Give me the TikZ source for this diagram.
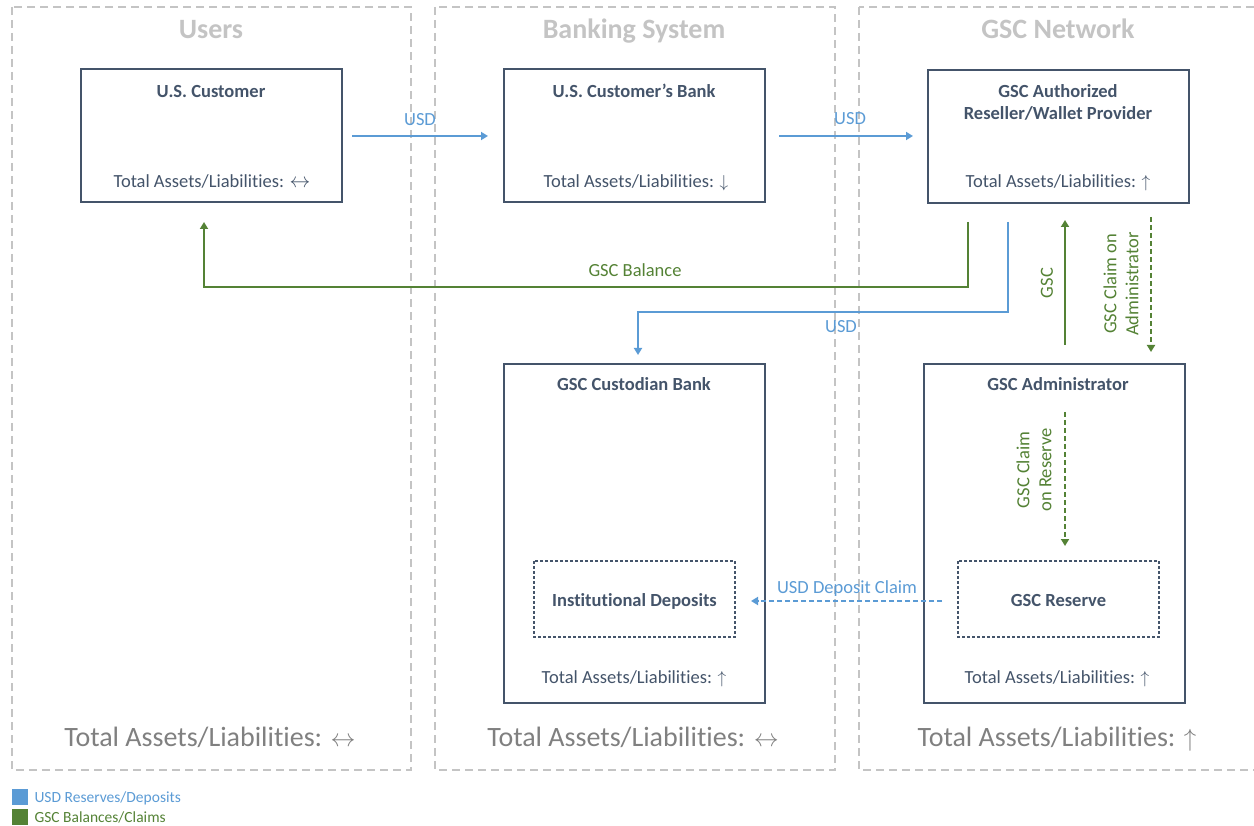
\documentclass[tikz,border=0pt]{standalone}
\usepackage{fontspec}
\setmainfont{Carlito}[Ligatures=NoCommon]
\usetikzlibrary{arrows.meta}
\definecolor{usdblue}{HTML}{5B9BD5}
\definecolor{gscgreen}{HTML}{548235}
\definecolor{slate}{HTML}{44546A}
\definecolor{grpgray}{HTML}{C4C4C4}
\definecolor{bigtext}{HTML}{808080}
\newcommand{\fs}[1]{\fontsize{#1}{1.2\dimexpr #1pt\relax}\selectfont}
% thin arrow glyphs for the balance-sheet change markers
\newcommand{\lr}{{\fontsize{1.2em}{1em}\selectfont$\leftrightarrow$}}
\newcommand{\up}{$\uparrow$}
\newcommand{\dn}{$\downarrow$}
\tikzset{
  group/.style={draw=grpgray, line width=1.4pt, dash pattern=on 8pt off 5pt},
  grouptitle/.style={text=grpgray, font=\fs{28}\bfseries, anchor=base},
  grouptotal/.style={text=bigtext, font=\fs{28}, anchor=base},
  entity/.style={draw=slate, line width=1.4pt, fill=white},
  subbox/.style={draw=slate, line width=1.1pt, dash pattern=on 3pt off 2pt},
  etitle/.style={text=slate, font=\fs{18.5}\bfseries, align=center, anchor=base},
  etotal/.style={text=slate, font=\fs{18.5}, anchor=base},
  usd/.style={draw=usdblue, line width=2pt, -{Triangle[width=8pt,length=7pt]}},
  gsc/.style={draw=gscgreen, line width=2pt, -{Triangle[width=8pt,length=7pt]}},
  claim/.style={line width=2pt, dash pattern=on 5pt off 3pt, -{Triangle[width=8pt,length=7pt]}},
  usdlabel/.style={text=usdblue, font=\fs{18.5}, anchor=base},
  gsclabel/.style={text=gscgreen, font=\fs{18.5}, anchor=base},
  vlabel/.style={text=gscgreen, font=\fs{18.5}, rotate=90, align=center},
}
\begin{document}
\begin{tikzpicture}[x=1pt,y=-1pt]
\useasboundingbox (0,0) rectangle (1254,826);

% column groups
\draw[group] (12,7) rectangle (411,770);
\draw[group] (435,7) rectangle (835,770);
\draw[group] (859,7) rectangle (1262,770);
\node[grouptitle] (tUsers) at (211,39) {Users};
\node[grouptitle] (tBank) at (634,39) {Banking System};
\node[grouptitle] (tNet) at (1058,39) {GSC Network};
\node[grouptotal] (gUsers) at (210,746) {Total Assets/Liabilities: \lr};
\node[grouptotal] (gBank) at (633,746) {Total Assets/Liabilities: \lr};
\node[grouptotal] (gNet) at (1057,746) {Total Assets/Liabilities: \up};

% entities
\draw[entity] (81,69) rectangle (342,202);
\node[etitle] (cust) at (211,98) {U.S. Customer};
\node[etotal] (custT) at (212,188) {Total Assets/Liabilities: \lr};

\draw[entity] (504,69) rectangle (765,202);
\node[etitle] (cbank) at (634,98) {U.S. Customer’s Bank};
\node[etotal] (cbankT) at (636,188) {Total Assets/Liabilities: \dn};

\draw[entity] (928,70) rectangle (1189,203);
\node[etitle, anchor=north, inner sep=0pt] (resell) at (1058,84) {GSC Authorized\\Reseller/Wallet Provider};
\node[etotal] (resellT) at (1058,188) {Total Assets/Liabilities: \up};

\draw[entity] (504,364) rectangle (765,703);
\node[etitle] (cust2) at (634,391) {GSC Custodian Bank};
\node[etotal] (cust2T) at (634,683) {Total Assets/Liabilities: \up};
\draw[subbox] (534,561) rectangle (735,637);
\node[etitle] (deps) at (634.5,606) {Institutional Deposits};

\draw[entity] (924,364) rectangle (1185,703);
\node[etitle] (admin) at (1058,391) {GSC Administrator};
\node[etotal] (adminT) at (1057,683) {Total Assets/Liabilities: \up};
\draw[subbox] (958,561) rectangle (1159,637);
\node[etitle] (reserve) at (1058.5,606) {GSC Reserve};

% connector end points
\coordinate (u1a) at (352,136);  \coordinate (u1b) at (488,136);
\coordinate (u2a) at (779,136);  \coordinate (u2b) at (913,136);
\coordinate (gba) at (968,222);  \coordinate (gbb) at (204,222);
\coordinate (u3a) at (1008,222); \coordinate (u3b) at (638,355);
\coordinate (g1a) at (1065,345); \coordinate (g1b) at (1065,220);
\coordinate (c1a) at (1151,217); \coordinate (c1b) at (1151,352);
\coordinate (c2a) at (1065,412); \coordinate (c2b) at (1065,546);
\coordinate (c3a) at (942,601);  \coordinate (c3b) at (751,601);

% USD flows
\draw[usd] (u1a) -- (u1b);
\node[usdlabel] (l1) at (420,126) {USD};
\draw[usd] (u2a) -- (u2b);
\node[usdlabel] (l2) at (850,125) {USD};
\draw[usd] (u3a) |- (638,312) -- (u3b);
\node[usdlabel] (l3) at (841,333) {USD};

% GSC flows
\draw[gsc] (gba) |- (204,287) -- (gbb);
\node[gsclabel] (l4) at (635,277) {GSC Balance};
\draw[gsc] (g1a) -- (g1b);
\node[vlabel] (l5) at (1047,283) {GSC};
\draw[claim, draw=gscgreen] (c1a) -- (c1b);
\node[vlabel] (l6) at (1121,284) {GSC Claim on\\Administrator};
\draw[claim, draw=gscgreen] (c2a) -- (c2b);
\node[vlabel] (l7) at (1034,470) {GSC Claim\\on Reserve};
\draw[claim, draw=usdblue] (c3a) -- (c3b);
\node[usdlabel] (l8) at (847,593) {USD Deposit Claim};

% legend
\fill[usdblue] (12,789) rectangle (28,805);
\node[usdlabel, font=\fs{15.5}, anchor=base west] (k1) at (31,802) {USD Reserves/Deposits};
\fill[gscgreen] (12,809) rectangle (28,825);
\node[gsclabel, font=\fs{15.5}, anchor=base west] (k2) at (31,822) {GSC Balances/Claims};
\end{tikzpicture}
\end{document}
